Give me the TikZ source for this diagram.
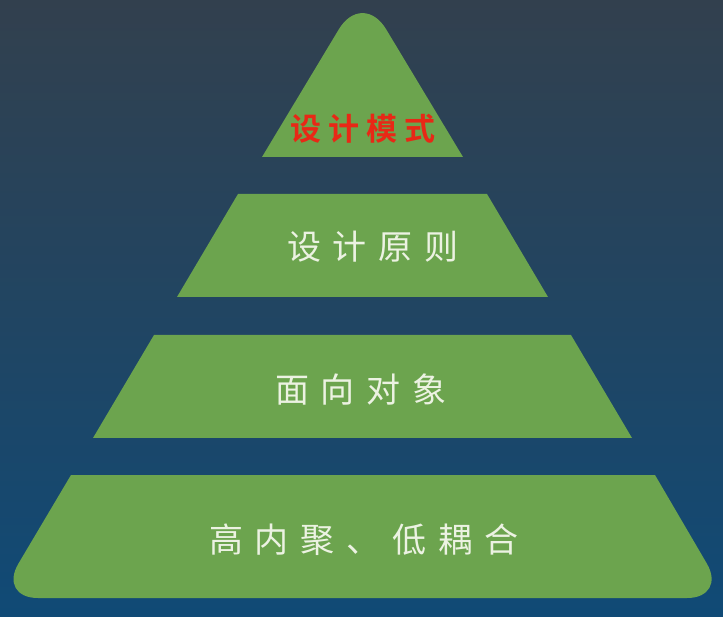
\documentclass[tikz,border=0pt]{standalone}
\usepackage{fontspec}
\newfontfamily\cjk{Noto Sans CJK SC}
\newfontfamily\cjkbold{Noto Sans CJK SC Bold}
\definecolor{bgtop}{RGB}{50,64,78}
\definecolor{bgbottom}{RGB}{16,74,118}
\definecolor{layergreen}{RGB}{108,164,78}
\definecolor{toptext}{RGB}{232,40,22}
\definecolor{labeltext}{RGB}{236,242,226}
% spaced run of CJK characters
\newcommand{\cjkgap}{\hspace{12pt}}
\newcommand{\redgap}{\hspace{7pt}}
\tikzset{
  layer/.style={fill=layergreen, draw=none},
  layerlabel/.style={text=labeltext, font=\cjk\fontsize{34}{38}\selectfont, inner sep=0pt},
  toplabel/.style={text=toptext, font=\cjkbold\fontsize{31}{35}\selectfont, inner sep=0pt}
}
\begin{document}
\begin{tikzpicture}[x=1pt, y=-1pt]
  % background
  \shade[top color=bgtop, bottom color=bgbottom] (0,0) rectangle (723,617);
  \useasboundingbox (0,0) rectangle (723,617);

  % pyramid tiers
  \fill[layer] (262,157) [rounded corners=46pt] -- (362.5,-10) [sharp corners] -- (463,157) -- cycle;
  \fill[layer] (238,194) -- (487,194) -- (548,297) -- (177,297) -- cycle;
  \fill[layer] (154,335) -- (571,335) -- (632,438) -- (93,438) -- cycle;
  \fill[layer] (71,475) -- (655,475) [rounded corners=40pt] -- (727,598) -- (-2,598) [sharp corners] -- cycle;

  % tier labels
  \node[toplabel] (pattern) at (363,129) {设\redgap 计\redgap 模\redgap 式};
  \node[layerlabel] (principle) at (373,247) {设\cjkgap 计\cjkgap 原\cjkgap 则};
  \node[layerlabel] (oop) at (361,390) {面\cjkgap 向\cjkgap 对\cjkgap 象};
  \node[layerlabel] (coupling) at (364,540) {高\cjkgap 内\cjkgap 聚\cjkgap 、\cjkgap 低\cjkgap 耦\cjkgap 合};
\end{tikzpicture}
\end{document}
